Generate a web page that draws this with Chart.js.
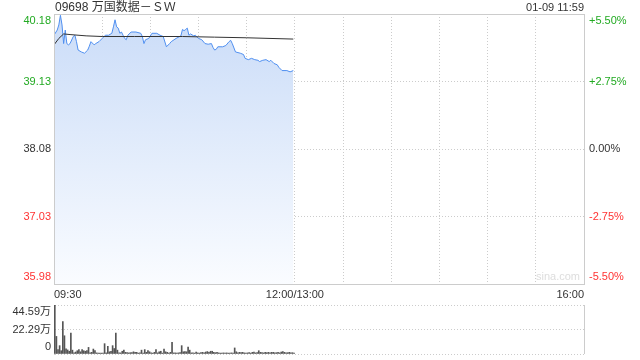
<!DOCTYPE html>
<html>
<head>
<meta charset="utf-8">
<script src="https://cdn.jsdelivr.net/npm/chart.js@4.4.0/dist/chart.umd.min.js"></script>
<style>
html, body { margin: 0; padding: 0; background: #fff; }
#wrap { position: relative; width: 640px; height: 360px; overflow: hidden;
  font-family: "Liberation Sans", Arial, "Noto Sans CJK SC", sans-serif; }
#title { position: absolute; left: 55px; top: 0; font-size: 12px; line-height: 14px; color: #333; }
#stamp { position: absolute; right: 56px; top: 0; font-size: 11px; line-height: 14px; color: #333; }
#mark { position: absolute; left: 536px; top: 270px; font-size: 11px; color: #ddd; }
#price { position: absolute; left: 0; top: 0; }
#vol { position: absolute; left: 0; top: 300px; }
</style>
</head>
<body>
<div id="wrap">
  <canvas id="price" width="640" height="302"></canvas>
  <canvas id="vol" width="640" height="60"></canvas>
  <div id="title">09698 万国数据－ＳＷ</div>
  <div id="stamp">01-09 11:59</div>
  <div id="mark">sina.com</div>
</div>
<script>
// minutes since 09:30 (lunch break removed), 330 = 16:00
var gridMinutes = [0, 30, 60, 90, 120, 150, 180, 210, 240, 270, 300, 330];
var timeLabelPos = [0, 150, 330];
var timeLabels = ['09:30', '12:00/13:00', '16:00'];

var prevClose = 38.08;
var priceTicks = [35.98, 37.03, 38.08, 39.13, 40.18];
var pctTicks = [-5.5, -2.75, 0, 2.75, 5.5];
var volTicks = [0, 22.29, 44.59];

// price line
var priceMin = [0, 2, 3, 4, 5, 6, 7, 8, 9, 10, 12, 13, 14, 15, 17, 19, 21, 22, 23, 25, 26, 28, 30, 32, 34,
  36, 37, 38, 39, 40, 41, 42, 43, 44, 45, 46, 48, 51, 54, 55, 56, 57, 59, 61, 64, 66, 68, 70, 72, 73,
  76, 79, 80, 81, 82, 83, 84, 85, 87, 88, 90, 92, 94, 96, 98, 99, 100, 101, 102, 105, 107, 109, 110,
  111, 113, 116, 118, 119, 121, 123, 125, 127, 128, 130, 132, 134, 135, 137, 139, 140, 142, 145, 147, 149];
var priceVal = [39.85, 39.93, 40.01, 40.16, 40.01, 39.72, 39.93, 39.72, 39.70, 39.72, 39.83, 39.85, 39.75, 39.62,
  39.59, 39.57, 39.62, 39.68, 39.75, 39.70, 39.72, 39.75, 39.80, 39.85, 39.85,
  39.88, 39.98, 40.09, 39.98, 39.96, 39.88, 39.90, 39.85, 39.80, 39.78, 39.85, 39.90, 39.90, 39.88, 39.83,
  39.72, 39.78, 39.80, 39.88, 39.88, 39.85, 39.83, 39.67, 39.72, 39.75,
  39.80, 39.84, 39.94, 39.92, 39.94, 39.96, 39.85, 39.87, 39.84, 39.85, 39.80, 39.78, 39.72, 39.71, 39.72,
  39.66, 39.62, 39.63, 39.67, 39.67, 39.69, 39.75, 39.77,
  39.72, 39.59, 39.57, 39.55, 39.49, 39.47, 39.49, 39.47, 39.46, 39.44, 39.46, 39.47, 39.44, 39.46, 39.41,
  39.39, 39.35, 39.30, 39.30, 39.28, 39.30];

// average price line
var avgMin = [0, 3, 6, 10, 20, 30, 50, 80, 100, 120, 149];
var avgVal = [39.70, 39.80, 39.87, 39.86, 39.84, 39.83, 39.83, 39.83, 39.82, 39.81, 39.79];

// volume per minute, in 万 shares
var volVal = [44.59, 16, 4, 7.6, 3, 29.5, 16.6, 4.6, 3.7, 2.5,
  19, 3.5, 1, 1.8, 3, 4, 2, 4, 3, 2.5,
  3, 6, 1, 1.5, 4.5, 3, 1, 0.8, 0.8, 0.8,
  0.8, 9.4, 1, 7, 2, 2.5, 7.6, 5, 19, 3.5,
  1, 1, 2.5, 3.5, 1.5, 1.2, 1, 1.2, 1.2, 2,
  1.5, 1.5, 0.8, 1, 3.5, 0.8, 4, 1.5, 3, 2,
  1, 0.8, 1.5, 4, 1, 2, 2.5, 0.8, 4.5, 2,
  1.5, 0.8, 1.5, 10.6, 1, 1, 0.8, 1, 1.2, 7.6,
  2, 2.2, 2, 6.4, 3.5, 1, 1, 0.8, 1.8, 1,
  0.8, 1.2, 1.5, 1, 1.8, 2.2, 1.5, 2.5, 2.5, 1.5,
  1.2, 1.5, 1, 0.8, 0.8, 1, 0.8, 1, 0.8, 0.8,
  1, 0.8, 5.5, 2, 1, 1.5, 1.2, 1.5, 1, 0.8,
  1, 1.2, 0.8, 1.5, 1.8, 1, 1.2, 3, 1.5, 1.2,
  1, 1.5, 1.2, 1.5, 1, 1.5, 1.5, 1, 1.2, 1.5,
  1, 1.8, 2.2, 1.5, 1, 1.2, 1.5, 1, 1.2, 0.8];

var UP = '#22aa22', DOWN = '#ff3333', FLAT = '#333333', GRID = '#cccccc';

Chart.defaults.font.family = '"Liberation Sans", Arial, "Noto Sans CJK SC", sans-serif';
Chart.defaults.font.size = 11;

// solid frame round the plot area
var framePlugin = {
  id: 'frame',
  afterDraw: function (chart, args, opts) {
    var a = chart.chartArea, ctx = chart.ctx;
    ctx.save();
    ctx.strokeStyle = GRID;
    ctx.lineWidth = 1;
    ctx.beginPath();
    if (opts.all) {
      ctx.rect(Math.round(a.left) + 0.5, Math.round(a.top) + 0.5,
        Math.round(a.right - a.left), Math.round(a.bottom - a.top));
    } else {
      ctx.moveTo(Math.round(a.right) + 0.5, a.top);
      ctx.lineTo(Math.round(a.right) + 0.5, a.bottom);
    }
    ctx.stroke();
    ctx.restore();
  }
};

// first/last labels pushed inside the plot, like the original
function edgeLabel(text, index, count) {
  if (index === count - 1) return ['', text];
  if (index === 0) return [text, ''];
  return text;
}

function setTicks(list) {
  return function (scale) {
    scale.ticks = list.map(function (v) { return { value: v }; });
  };
}

function fixWidth(w) {
  return function (s) {
    s.width = w;
    s.paddingTop = 0;
    s.paddingBottom = 0;
  };
}

var pricePts = priceMin.map(function (m, i) { return { x: m, y: priceVal[i] }; });
var avgPts = avgMin.map(function (m, i) { return { x: m, y: avgVal[i] }; });

new Chart(document.getElementById('price'), {
  type: 'line',
  data: {
    datasets: [{
      data: avgPts,
      borderColor: '#333',
      borderWidth: 1,
      pointRadius: 0,
      fill: false,
      order: 0
    }, {
      data: pricePts,
      borderColor: '#4f8ff0',
      borderWidth: 1,
      pointRadius: 0,
      tension: 0,
      fill: 'start',
      order: 1,
      backgroundColor: function (c) {
        var a = c.chart.chartArea;
        if (!a) return 'rgba(200,220,248,0.8)';
        var g = c.chart.ctx.createLinearGradient(0, a.top, 0, a.bottom);
        g.addColorStop(0, '#cadcf8');
        g.addColorStop(1, '#fafcff');
        return g;
      }
    }]
  },
  options: {
    responsive: false,
    animation: false,
    layout: { padding: { top: 14 } },
    plugins: { legend: { display: false }, tooltip: { enabled: false }, frame: { all: true } },
    scales: {
      x: {
        type: 'linear', min: 0, max: 330,
        afterBuildTicks: setTicks(gridMinutes),
        afterFit: function (s) { s.height = 18; },
        grid: { color: GRID, drawTicks: false },
        border: { color: GRID, dash: [1, 2] },
        ticks: {
          autoSkip: false, maxRotation: 0, align: 'inner', padding: 4, color: '#333',
          callback: function (v) {
            var k = timeLabelPos.indexOf(v);
            return k < 0 ? '' : timeLabels[k];
          }
        }
      },
      y: {
        min: priceTicks[0], max: priceTicks[priceTicks.length - 1],
        afterBuildTicks: setTicks(priceTicks),
        afterFit: fixWidth(54),
        grid: { color: GRID, drawTicks: false },
        border: { color: GRID, dash: [1, 2] },
        ticks: {
          autoSkip: false, padding: 3,
          color: function (c) {
            var v = c.tick.value;
            return v > prevClose + 0.001 ? UP : (v < prevClose - 0.001 ? DOWN : FLAT);
          },
          callback: function (v, i, t) { return edgeLabel(v.toFixed(2), i, t.length); }
        }
      },
      y2: {
        position: 'right',
        min: pctTicks[0], max: pctTicks[pctTicks.length - 1],
        afterBuildTicks: setTicks(pctTicks),
        afterFit: fixWidth(56),
        grid: { display: false, drawTicks: false },
        border: { display: false },
        ticks: {
          autoSkip: false, padding: 5,
          color: function (c) {
            var v = c.tick.value;
            return v > 0 ? UP : (v < 0 ? DOWN : FLAT);
          },
          callback: function (v, i, t) {
            return edgeLabel((v > 0 ? '+' : '') + v.toFixed(2) + '%', i, t.length);
          }
        }
      }
    }
  },
  plugins: [framePlugin]
});

var volPts = volVal.map(function (v, i) { return { x: i + 0.5, y: v }; });

new Chart(document.getElementById('vol'), {
  type: 'bar',
  data: {
    datasets: [{
      data: volPts,
      backgroundColor: '#555',
      borderWidth: 0,
      barThickness: 1
    }]
  },
  options: {
    responsive: false,
    animation: false,
    layout: { padding: { top: 5, bottom: 6, right: 56 } },
    plugins: { legend: { display: false }, tooltip: { enabled: false }, frame: { all: false } },
    scales: {
      x: { type: 'linear', min: 0, max: 330, offset: false, display: false },
      y: {
        min: 0, max: volTicks[volTicks.length - 1],
        afterBuildTicks: setTicks(volTicks),
        afterFit: fixWidth(54),
        grid: { color: GRID, drawTicks: false },
        border: { color: GRID, dash: [1, 2] },
        ticks: {
          autoSkip: false, padding: 3, color: '#333',
          callback: function (v, i, t) {
            return edgeLabel(v === 0 ? '0' : v.toFixed(2) + '万', i, t.length);
          }
        }
      }
    }
  },
  plugins: [framePlugin]
});
</script>
</body>
</html>
